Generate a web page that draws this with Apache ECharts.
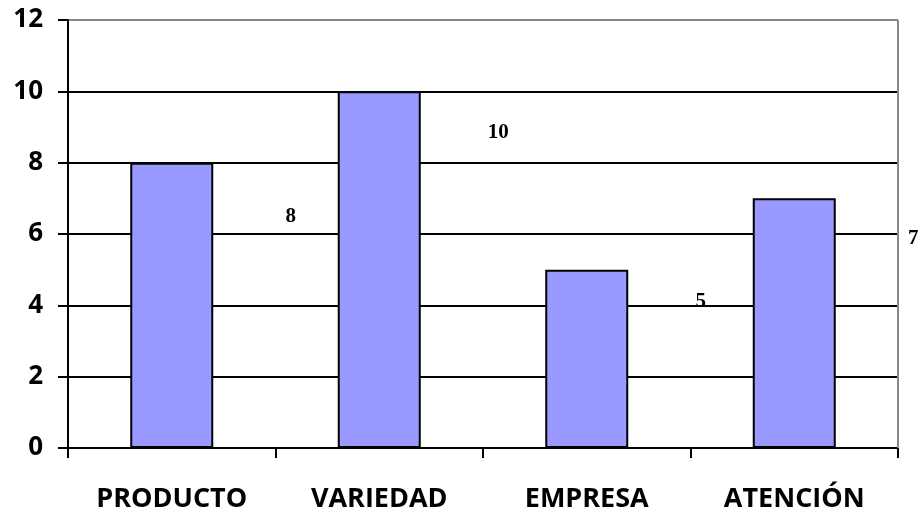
<!DOCTYPE html>
<html>
<head>
<meta charset="utf-8">
<script src="https://cdn.jsdelivr.net/npm/echarts@6/dist/echarts.min.js"></script>
<style>
  html, body { margin: 0; padding: 0; background: #fff; }
  #main { width: 922px; height: 513px; }
</style>
</head>
<body>
<div id="main"></div>
<script>
const categories = ['PRODUCTO', 'VARIEDAD', 'EMPRESA', 'ATENCIÓN'];
const values = [8, 10, 5, 7];
const yTicks = [0, 2, 4, 6, 8, 10, 12];

// the value labels sit off to the right of each bar, a bit below its top
const labelShift = [[119, 64], [119, 52], [114, 42], [119, 51]];

const myChart = echarts.init(document.getElementById('main'));
const option = {
    animation: false,
    grid: { left: 68, right: 24, top: 20, bottom: 63 },
    xAxis: {
        type: 'category',
        data: categories,
        axisLine: { lineStyle: { color: '#000', width: 2 } },
        axisTick: { show: true, length: 10, lineStyle: { color: '#000', width: 2 } },
        axisLabel: {
            color: '#000', fontFamily: 'Open Sans', fontWeight: 'bold', fontSize: 27, margin: 38
        }
    },
    yAxis: {
        type: 'value',
        min: yTicks[0],
        max: yTicks[yTicks.length - 1],
        interval: 2,
        axisLine: { show: true, lineStyle: { color: '#000', width: 2 } },
        axisTick: { show: true, length: 10, lineStyle: { color: '#000', width: 2 } },
        axisLabel: {
            color: '#000', fontFamily: 'Open Sans', fontWeight: 'bold', fontSize: 26, margin: 25
        },
        splitLine: {
            lineStyle: {
                color: yTicks.map((t, i) => i === yTicks.length - 1 ? '#888' : '#000'),
                width: 2
            }
        }
    },
    series: [
        {
            type: 'bar',
            barWidth: '40%',
            data: values.map((v, i) => ({
                value: v,
                label: { offset: labelShift[i] }
            })),
            itemStyle: { color: '#9999FF', borderColor: '#000', borderWidth: 2 },
            label: {
                show: true,
                position: 'top',
                distance: 0,
                color: '#000',
                fontFamily: 'Liberation Serif',
                fontWeight: 'bold',
                fontSize: 21
            }
        }
    ]
};
myChart.setOption(option);

// gray right border of the plot area, as in the original
const grid = myChart.getModel().getComponent('grid').coordinateSystem.getRect();
myChart.setOption({
    graphic: [{
        type: 'line',
        shape: { x1: grid.x + grid.width, y1: grid.y, x2: grid.x + grid.width, y2: grid.y + grid.height },
        style: { stroke: '#888', lineWidth: 2 },
        z: 1
    }]
});
</script>
</body>
</html>
